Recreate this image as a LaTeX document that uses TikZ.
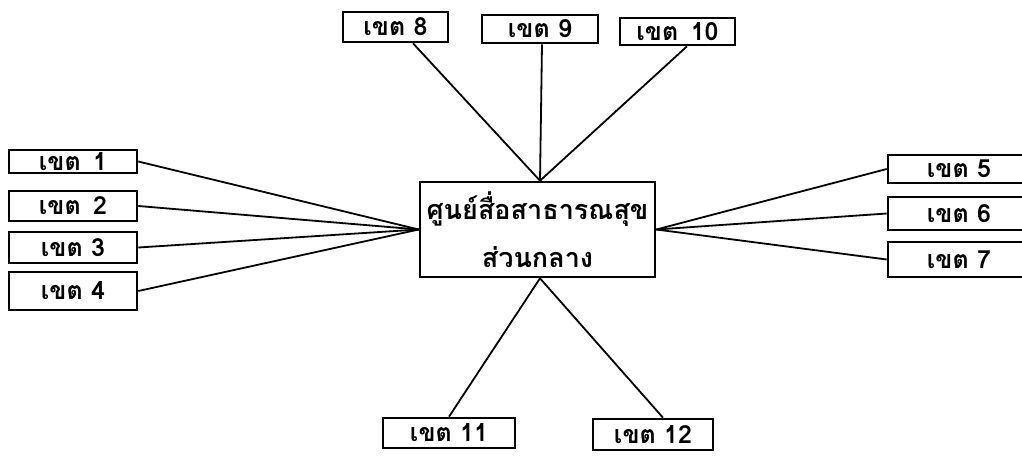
\documentclass[tikz,border=0pt]{standalone}
\usepackage{fontspec}
\newfontfamily\thaifont[Script=Thai]{Loma}
\usetikzlibrary{calc}
\begin{document}
\begin{tikzpicture}[x=0.5pt,y=-0.5pt,
  zbox/.style={draw=black, line width=1.3pt, fill=white, inner sep=0pt, font=\thaifont\bfseries\fontsize{12.5}{14}\selectfont},
  link/.style={line width=0.9pt},
  every node/.style={text=black}]
\useasboundingbox (0,0) rectangle (1022,461);
% central box
\node[zbox, text width=117.5pt, minimum height=47.5pt, align=center,
  font=\thaifont\bfseries\fontsize{13.5}{24}\selectfont] (c) at (537.5,229.5)
  {ศูนย์สื่อสาธารณสุข\\ส่วนกลาง};
% left
\node[zbox, minimum width=64pt, minimum height=11.5pt] (b1) at (73,161.5) {เขต\enspace 1};
\node[zbox, minimum width=64pt, minimum height=15pt] (b2) at (73,206) {เขต\enspace 2};
\node[zbox, minimum width=64pt, minimum height=15.5pt] (b3) at (73,247.5) {เขต 3};
\node[zbox, minimum width=64pt, minimum height=19pt] (b4) at (73,291) {เขต 4};
% right
\node[zbox, minimum width=71pt, minimum height=14pt] (b5) at (959,169) {เขต 5};
\node[zbox, minimum width=71pt, minimum height=16.5pt] (b6) at (959,213.5) {เขต 6};
\node[zbox, minimum width=71pt, minimum height=17.5pt] (b7) at (959,259.5) {เขต 7};
% top
\node[zbox, minimum width=52.5pt, minimum height=15pt] (b8) at (395.5,27) {เขต 8};
\node[zbox, minimum width=58pt, minimum height=14pt] (b9) at (540,29) {เขต 9};
\node[zbox, minimum width=57.5pt, minimum height=13.5pt] (b10) at (677.5,31.5) {เขต\enspace 10};
% bottom
\node[zbox, minimum width=66pt, minimum height=15pt] (b11) at (449,433) {เขต 11};
\node[zbox, minimum width=60pt, minimum height=15.5pt] (b12) at (653,434.5) {เขต 12};
% connectors
\foreach \n in {b1,b2,b3,b4} \draw[link] (\n.east) -- (c.west);
\foreach \n in {b5,b6,b7} \draw[link] (\n.west) -- (c.east);
\draw[link] ($(b8.south)+(17.5,0)$) -- ($(c.north)+(2.5,0)$);
\draw[link] ($(b9.south)+(2,0)$) -- ($(c.north)+(2.5,0)$);
\draw[link] ($(b10.south)+(9.5,0)$) -- ($(c.north)+(2.5,0)$);
\draw[link] (b11.north) -- ($(c.south)+(2.5,0)$);
\draw[link] ($(b12.north)+(10,0)$) -- ($(c.south)+(2.5,0)$);
\end{tikzpicture}
\end{document}
